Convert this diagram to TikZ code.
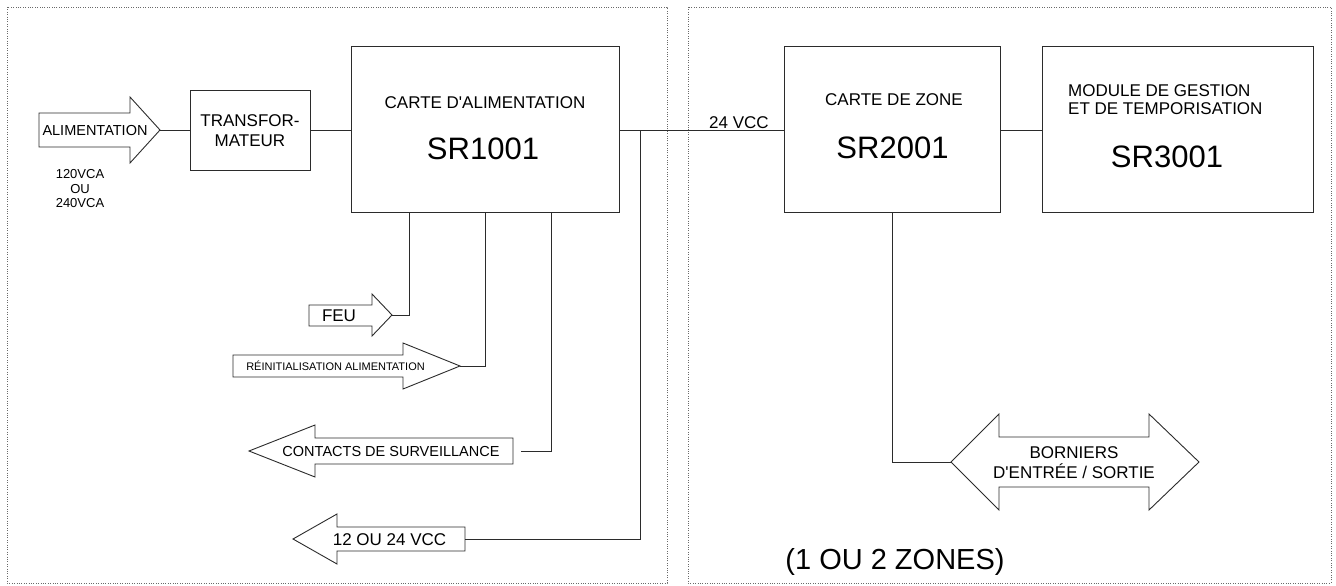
\documentclass[tikz,border=0pt]{standalone}
\usepackage{fontspec}
\setmainfont{Liberation Sans}
\usetikzlibrary{positioning, calc}
\definecolor{wirecol}{HTML}{2B2B2B}
\definecolor{zonecol}{HTML}{6A6A6A}
\tikzset{
  blk/.style     ={rectangle, draw=wirecol, line width=1pt, fill=white, inner sep=0pt},
  wire/.style    ={draw=wirecol, line width=0.9pt},
  fatarrow/.style={draw=wirecol, line width=0.9pt, fill=white, line join=miter},
  zone/.style    ={draw=zonecol, line width=0.8pt, dash pattern=on 1pt off 1.4pt},
  lbl/.style     ={inner sep=0pt, font=\fontsize{17}{20}\selectfont},
  lblsm/.style   ={inner sep=0pt, font=\fontsize{14.5}{17}\selectfont},
  lbltiny/.style ={inner sep=0pt, font=\fontsize{11}{13}\selectfont},
  lblbig/.style  ={inner sep=0pt, font=\fontsize{31}{36}\selectfont},
}
\begin{document}
\begin{tikzpicture}[x=1pt, y=-1pt]
  \useasboundingbox (0,0) rectangle (1336,586);
  % zones
  \draw[zone] (7,7) rectangle (667,583);
  \draw[zone] (688,7) rectangle (1331,583);

  % main boards
  \node[blk, minimum width=120, minimum height=80] (trans) at (250,130.5) {};
  \node[blk, minimum width=268, minimum height=165] (sr1) at (485,129.5) {};
  \node[blk, minimum width=216, minimum height=165] (sr2) at (892,129.5) {};
  \node[blk, minimum width=271, minimum height=165] (sr3) at (1177.5,129.5) {};

  \node[lbl, align=center] at (trans.center) {TRANSFOR-\\MATEUR};
  \node[lbl, anchor=base] at (485,108.3) {CARTE D\textquotesingle ALIMENTATION};
  \node[lblbig, anchor=base] at (483,159.3) {SR1001};
  \node[lbl, anchor=base] at (894,106) {CARTE DE ZONE};
  \node[lblbig, anchor=base] at (892.5,158) {SR2001};
  \node[lbl, anchor=west, align=left, font=\fontsize{17}{18.5}\selectfont] at (1068,99.5) {MODULE DE GESTION\\ET DE TEMPORISATION};
  \node[lblbig, anchor=base] at (1167,167) {SR3001};

  % block arrows
  \draw[fatarrow] (39,113) -- (130,113) -- (130,97) -- (160,130) -- (130,163) -- (130,147) -- (39,147) -- cycle;
  \coordinate (alimtip) at (160,130);
  \node[lblsm, anchor=base] at (95,135) {ALIMENTATION};
  \node[inner sep=0pt, align=center, font=\fontsize{13}{14.5}\selectfont] at (80,189) {120VCA\\OU\\240VCA};

  \draw[fatarrow] (309,305) -- (372,305) -- (372,294) -- (392,315) -- (372,336) -- (372,326) -- (309,326) -- cycle;
  \coordinate (feutip) at (392,315);
  \node[lbl, anchor=base] at (339,321.7) {FEU};

  \draw[fatarrow] (233,355) -- (403,355) -- (403,343) -- (460,366) -- (403,389) -- (403,377) -- (233,377) -- cycle;
  \coordinate (reinittip) at (460,366);
  \node[lbltiny, anchor=base] at (335.5,370) {RÉINITIALISATION ALIMENTATION};

  \draw[fatarrow] (513,438) -- (315,438) -- (315,425) -- (249,451) -- (315,477) -- (315,464) -- (513,464) -- cycle;
  \coordinate (contactsend) at (521,451);
  \node[lblsm, anchor=base] at (391,456.7) {CONTACTS DE SURVEILLANCE};

  \draw[fatarrow] (465,527) -- (337,527) -- (337,514) -- (293,539) -- (337,564) -- (337,551) -- (465,551) -- cycle;
  \coordinate (vccend) at (465,539);
  \node[lbl, anchor=base] at (389.5,545) {12 OU 24 VCC};

  \draw[fatarrow] (951,462) -- (999,414) -- (999,437) -- (1149,437) -- (1149,414) -- (1199,462)
    -- (1149,510) -- (1149,487) -- (999,487) -- (999,510) -- cycle;
  \coordinate (borntip) at (951,462);
  \node[lbl, align=center, font=\fontsize{17}{20}\selectfont] at (1074,462.3) {BORNIERS\\D\textquotesingle ENTRÉE / SORTIE};

  % connections
  \draw[wire] (alimtip) -- (trans.west |- alimtip);
  \draw[wire] (trans.east |- alimtip) -- (sr1.west |- alimtip);
  \draw[wire] (sr1.east |- alimtip) -- (sr2.west |- alimtip);
  \node[lbl, anchor=base] at (739,128) {24 VCC};
  \draw[wire] (sr2.east |- alimtip) -- (sr3.west |- alimtip);
  \draw[wire] ([xshift=-76pt]sr1.south) |- (feutip);
  \draw[wire] (sr1.south) |- (reinittip);
  \draw[wire] ([xshift=66pt]sr1.south) |- (contactsend);
  \draw[wire] ([xshift=21pt]sr1.east |- alimtip) |- (vccend);
  \draw[wire] (sr2.south) |- (borntip);

  \node[inner sep=0pt, font=\fontsize{29}{34}\selectfont, anchor=base] at (895,569) {(1 OU 2 ZONES)};
\end{tikzpicture}
\end{document}
